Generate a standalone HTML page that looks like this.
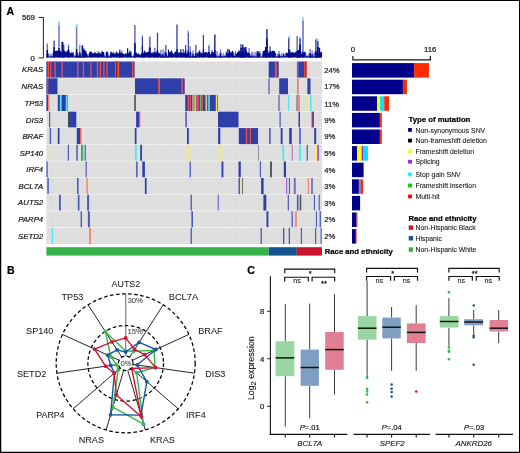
<!DOCTYPE html>
<html lang="en"><head><meta charset="utf-8"><title>Figure</title>
<style>
html,body{margin:0;padding:0;background:#fff;}
body{width:520px;height:453px;overflow:hidden;}
svg{display:block;}
text{font-family:"Liberation Sans",sans-serif;}
</style></head><body>
<svg width="520" height="453" viewBox="0 0 520 453">
<rect x="0" y="0" width="520" height="453" fill="#fff"/>
<text x="6.60" y="14.90" font-size="10.6" text-anchor="start" font-weight="bold" font-style="normal" fill="#000" stroke="#000" stroke-width="0.22" >A</text>
<text x="6.90" y="273.50" font-size="10.6" text-anchor="start" font-weight="bold" font-style="normal" fill="#000" stroke="#000" stroke-width="0.22" >B</text>
<text x="247.30" y="273.80" font-size="10.6" text-anchor="start" font-weight="bold" font-style="normal" fill="#000" stroke="#000" stroke-width="0.22" >C</text>
<g id="tmb">
<text x="34.90" y="20.20" font-size="7.8" text-anchor="end" font-weight="normal" font-style="normal" fill="#1a1a1a" stroke="#1a1a1a" stroke-width="0.22" >569</text>
<text x="34.90" y="61.00" font-size="7.8" text-anchor="end" font-weight="normal" font-style="normal" fill="#1a1a1a" stroke="#1a1a1a" stroke-width="0.22" >0</text>
<path d="M38.6 17.4 H43.4 V57.9 H38.6" fill="none" stroke="#231f20" stroke-width="1"/>
<path fill="#8d93cc" d="M48.68 57.6v-2.24h0.57v2.24zM49.25 57.6v-2.42h0.57v2.42zM49.82 57.6v-3.96h0.57v3.96zM50.39 57.6v-4.92h0.57v4.92zM50.96 57.6v-3.05h0.57v3.05zM51.54 57.6v-4.17h0.57v4.17zM52.11 57.6v-2.20h0.57v2.20zM73.79 57.6v-2.35h0.57v2.35zM74.36 57.6v-2.55h0.57v2.55zM74.93 57.6v-2.50h0.57v2.50zM75.50 57.6v-5.33h0.57v5.33zM77.78 57.6v-2.76h0.57v2.76zM78.35 57.6v-4.74h0.57v4.74zM78.92 57.6v-3.76h0.57v3.76zM80.64 57.6v-3.52h0.57v3.52zM81.21 57.6v-3.24h0.57v3.24zM87.48 57.6v-2.50h0.57v2.50zM88.05 57.6v-3.19h0.57v3.19zM104.03 57.6v-3.63h0.57v3.63zM104.60 57.6v-5.20h0.57v5.20zM105.17 57.6v-4.86h0.57v4.86zM105.74 57.6v-2.25h0.57v2.25zM108.02 57.6v-5.00h0.57v5.00zM108.60 57.6v-3.35h0.57v3.35zM109.17 57.6v-2.55h0.57v2.55zM109.74 57.6v-2.67h0.57v2.67zM131.42 57.6v-4.40h0.57v4.40zM131.99 57.6v-2.18h0.57v2.18zM132.56 57.6v-2.87h0.57v2.87zM133.13 57.6v-4.96h0.57v4.96zM133.70 57.6v-3.00h0.57v3.00zM159.95 57.6v-2.21h0.57v2.21zM160.52 57.6v-4.30h0.57v4.30zM161.09 57.6v-3.59h0.57v3.59zM161.66 57.6v-5.33h0.57v5.33zM162.23 57.6v-4.79h0.57v4.79zM162.80 57.6v-2.71h0.57v2.71zM163.37 57.6v-2.48h0.57v2.48zM163.94 57.6v-4.79h0.57v4.79zM166.80 57.6v-2.48h0.57v2.48zM167.37 57.6v-2.01h0.57v2.01zM189.05 57.6v-5.29h0.57v5.29zM189.62 57.6v-4.93h0.57v4.93zM190.19 57.6v-3.36h0.57v3.36zM190.76 57.6v-4.97h0.57v4.97zM191.33 57.6v-5.05h0.57v5.05zM191.90 57.6v-3.33h0.57v3.33zM192.47 57.6v-5.31h0.57v5.31zM193.04 57.6v-3.78h0.57v3.78zM193.61 57.6v-4.20h0.57v4.20zM194.19 57.6v-2.13h0.57v2.13zM194.76 57.6v-4.19h0.57v4.19zM195.33 57.6v-4.16h0.57v4.16zM195.90 57.6v-3.78h0.57v3.78zM196.47 57.6v-4.04h0.57v4.04zM215.87 57.6v-5.25h0.57v5.25zM216.44 57.6v-3.21h0.57v3.21zM217.01 57.6v-2.17h0.57v2.17zM217.58 57.6v-2.66h0.57v2.66zM218.15 57.6v-3.40h0.57v3.40zM218.72 57.6v-2.12h0.57v2.12zM219.29 57.6v-4.54h0.57v4.54zM219.86 57.6v-5.26h0.57v5.26zM220.43 57.6v-3.08h0.57v3.08zM221.00 57.6v-5.12h0.57v5.12zM221.57 57.6v-2.80h0.57v2.80zM222.14 57.6v-3.31h0.57v3.31zM222.72 57.6v-5.16h0.57v5.16zM223.29 57.6v-4.80h0.57v4.80zM223.86 57.6v-3.09h0.57v3.09zM224.43 57.6v-2.67h0.57v2.67zM225.00 57.6v-2.12h0.57v2.12zM233.56 57.6v-3.35h0.57v3.35zM234.13 57.6v-4.75h0.57v4.75zM234.70 57.6v-3.61h0.57v3.61zM249.53 57.6v-4.18h0.57v4.18zM250.10 57.6v-3.26h0.57v3.26zM250.67 57.6v-3.77h0.57v3.77zM251.25 57.6v-4.74h0.57v4.74zM251.82 57.6v-5.21h0.57v5.21zM252.39 57.6v-5.15h0.57v5.15zM252.96 57.6v-4.80h0.57v4.80zM253.53 57.6v-3.38h0.57v3.38zM254.10 57.6v-2.74h0.57v2.74zM254.67 57.6v-2.42h0.57v2.42zM255.24 57.6v-2.14h0.57v2.14zM255.81 57.6v-4.85h0.57v4.85zM256.38 57.6v-4.13h0.57v4.13zM260.38 57.6v-3.61h0.57v3.61zM260.95 57.6v-2.31h0.57v2.31zM261.52 57.6v-4.16h0.57v4.16zM262.09 57.6v-3.74h0.57v3.74zM275.78 57.6v-3.99h0.57v3.99zM276.35 57.6v-2.11h0.57v2.11zM276.92 57.6v-3.74h0.57v3.74zM277.49 57.6v-4.22h0.57v4.22zM278.06 57.6v-2.36h0.57v2.36zM278.63 57.6v-4.00h0.57v4.00zM279.20 57.6v-2.46h0.57v2.46zM279.78 57.6v-2.33h0.57v2.33zM280.35 57.6v-3.37h0.57v3.37zM280.92 57.6v-3.91h0.57v3.91zM281.49 57.6v-5.19h0.57v5.19zM282.06 57.6v-2.15h0.57v2.15zM284.34 57.6v-2.68h0.57v2.68zM284.91 57.6v-4.77h0.57v4.77zM305.45 57.6v-5.21h0.57v5.21zM306.02 57.6v-2.12h0.57v2.12zM306.59 57.6v-4.81h0.57v4.81zM307.16 57.6v-2.33h0.57v2.33zM307.73 57.6v-3.44h0.57v3.44zM308.31 57.6v-4.43h0.57v4.43zM308.88 57.6v-3.71h0.57v3.71zM309.45 57.6v-3.40h0.57v3.40zM310.02 57.6v-4.40h0.57v4.40zM310.59 57.6v-2.31h0.57v2.31zM311.16 57.6v-2.69h0.57v2.69zM311.73 57.6v-3.67h0.57v3.67zM312.30 57.6v-3.68h0.57v3.68zM312.87 57.6v-5.21h0.57v5.21zM313.44 57.6v-3.69h0.57v3.69zM314.01 57.6v-4.68h0.57v4.68z"/>
<rect x="46.55" y="43.60" width="1.50" height="14.00" fill="#6d75bf" />
<rect x="46.55" y="50.00" width="1.50" height="7.60" fill="#000a8c" />
<rect x="53.45" y="40.50" width="1.30" height="17.10" fill="#323aa2" />
<rect x="53.45" y="47.00" width="1.30" height="10.60" fill="#000a8c" />
<rect x="58.25" y="21.70" width="1.50" height="35.90" fill="#6d75bf" />
<rect x="58.25" y="48.00" width="1.50" height="9.60" fill="#000a8c" />
<rect x="58.25" y="21.70" width="1.50" height="3.60" fill="#93efff" />
<rect x="61.45" y="41.90" width="1.90" height="15.70" fill="#000a8c" />
<rect x="63.30" y="44.50" width="1.00" height="13.10" fill="#000a8c" />
<rect x="67.90" y="44.30" width="1.20" height="13.30" fill="#323aa2" />
<rect x="67.90" y="50.00" width="1.20" height="7.60" fill="#000a8c" />
<rect x="67.90" y="44.30" width="1.20" height="1.20" fill="#93efff" />
<rect x="75.85" y="24.40" width="1.50" height="33.20" fill="#6d75bf" />
<rect x="75.85" y="49.00" width="1.50" height="8.60" fill="#000a8c" />
<rect x="75.85" y="24.40" width="1.50" height="2.60" fill="#93efff" />
<rect x="79.20" y="44.70" width="1.20" height="12.90" fill="#6d75bf" />
<rect x="79.20" y="52.00" width="1.20" height="5.60" fill="#000a8c" />
<rect x="81.60" y="45.40" width="1.60" height="12.20" fill="#000a8c" />
<rect x="83.20" y="48.50" width="1.20" height="9.10" fill="#000a8c" />
<rect x="84.60" y="51.00" width="1.20" height="6.60" fill="#000a8c" />
<rect x="90.60" y="51.50" width="1.20" height="6.10" fill="#000a8c" />
<rect x="97.55" y="51.00" width="1.30" height="6.60" fill="#6d75bf" />
<rect x="97.55" y="54.00" width="1.30" height="3.60" fill="#000a8c" />
<rect x="101.35" y="50.80" width="1.30" height="6.80" fill="#323aa2" />
<rect x="106.00" y="51.60" width="1.20" height="6.00" fill="#323aa2" />
<rect x="106.40" y="51.70" width="1.20" height="5.90" fill="#000a8c" />
<rect x="110.30" y="51.70" width="1.40" height="5.90" fill="#000a8c" />
<rect x="115.80" y="51.70" width="1.20" height="5.90" fill="#000a8c" />
<rect x="119.15" y="49.70" width="1.30" height="7.90" fill="#323aa2" />
<rect x="119.15" y="52.00" width="1.30" height="5.60" fill="#000a8c" />
<rect x="121.20" y="50.40" width="1.20" height="7.20" fill="#6d75bf" />
<rect x="121.20" y="53.00" width="1.20" height="4.60" fill="#000a8c" />
<rect x="127.00" y="48.30" width="1.20" height="9.30" fill="#000a8c" />
<rect x="129.30" y="50.40" width="1.20" height="7.20" fill="#323aa2" />
<rect x="134.10" y="25.00" width="1.60" height="32.60" fill="#6d75bf" />
<rect x="134.10" y="43.00" width="1.60" height="14.60" fill="#000a8c" />
<rect x="141.80" y="34.90" width="1.20" height="22.70" fill="#323aa2" />
<rect x="141.80" y="46.00" width="1.20" height="11.60" fill="#000a8c" />
<rect x="141.80" y="34.90" width="1.20" height="1.50" fill="#93efff" />
<rect x="143.80" y="50.40" width="1.20" height="7.20" fill="#323aa2" />
<rect x="148.90" y="36.60" width="1.80" height="21.00" fill="#6d75bf" />
<rect x="148.90" y="47.50" width="1.80" height="10.10" fill="#000a8c" />
<rect x="154.05" y="47.70" width="1.50" height="9.90" fill="#6d75bf" />
<rect x="154.05" y="52.00" width="1.50" height="5.60" fill="#000a8c" />
<rect x="156.90" y="32.90" width="1.20" height="24.70" fill="#323aa2" />
<rect x="156.90" y="50.00" width="1.20" height="7.60" fill="#000a8c" />
<rect x="160.20" y="49.70" width="1.20" height="7.90" fill="#6d75bf" />
<rect x="160.20" y="54.00" width="1.20" height="3.60" fill="#000a8c" />
<rect x="162.40" y="49.20" width="1.20" height="8.40" fill="#6d75bf" />
<rect x="162.40" y="54.00" width="1.20" height="3.60" fill="#000a8c" />
<rect x="165.00" y="45.00" width="1.60" height="12.60" fill="#6d75bf" />
<rect x="165.00" y="53.00" width="1.60" height="4.60" fill="#000a8c" />
<rect x="167.90" y="49.70" width="1.20" height="7.90" fill="#000a8c" />
<rect x="171.00" y="50.60" width="1.20" height="7.00" fill="#000a8c" />
<rect x="176.35" y="24.50" width="1.30" height="33.10" fill="#323aa2" />
<rect x="176.35" y="49.00" width="1.30" height="8.60" fill="#000a8c" />
<rect x="180.15" y="49.00" width="1.30" height="8.60" fill="#323aa2" />
<rect x="182.60" y="49.00" width="1.20" height="8.60" fill="#323aa2" />
<rect x="185.00" y="45.00" width="1.20" height="12.60" fill="#323aa2" />
<rect x="185.00" y="50.00" width="1.20" height="7.60" fill="#000a8c" />
<rect x="187.70" y="30.20" width="1.20" height="27.40" fill="#323aa2" />
<rect x="187.70" y="50.00" width="1.20" height="7.60" fill="#000a8c" />
<rect x="187.70" y="30.20" width="1.20" height="2.60" fill="#93efff" />
<rect x="189.50" y="46.30" width="1.40" height="11.30" fill="#6d75bf" />
<rect x="189.50" y="52.00" width="1.40" height="5.60" fill="#000a8c" />
<rect x="192.35" y="50.50" width="1.30" height="7.10" fill="#6d75bf" />
<rect x="192.35" y="54.00" width="1.30" height="3.60" fill="#000a8c" />
<rect x="195.00" y="45.00" width="1.60" height="12.60" fill="#6d75bf" />
<rect x="195.00" y="53.00" width="1.60" height="4.60" fill="#000a8c" />
<rect x="198.95" y="50.40" width="1.30" height="7.20" fill="#000a8c" />
<rect x="202.80" y="35.10" width="1.20" height="22.50" fill="#323aa2" />
<rect x="202.80" y="49.00" width="1.20" height="8.60" fill="#000a8c" />
<rect x="208.10" y="44.70" width="1.80" height="12.90" fill="#6d75bf" />
<rect x="208.10" y="52.00" width="1.80" height="5.60" fill="#000a8c" />
<rect x="208.10" y="44.70" width="1.80" height="1.20" fill="#93efff" />
<rect x="211.30" y="50.00" width="1.40" height="7.60" fill="#6d75bf" />
<rect x="211.30" y="54.00" width="1.40" height="3.60" fill="#000a8c" />
<rect x="214.00" y="34.50" width="1.60" height="23.10" fill="#323aa2" />
<rect x="214.00" y="50.00" width="1.60" height="7.60" fill="#000a8c" />
<rect x="216.50" y="51.00" width="1.20" height="6.60" fill="#6d75bf" />
<rect x="219.90" y="49.40" width="1.20" height="8.20" fill="#6d75bf" />
<rect x="219.90" y="53.00" width="1.20" height="4.60" fill="#000a8c" />
<rect x="227.25" y="49.00" width="1.30" height="8.60" fill="#000a8c" />
<rect x="228.85" y="50.00" width="1.30" height="7.60" fill="#000a8c" />
<rect x="231.75" y="51.00" width="1.50" height="6.60" fill="#000a8c" />
<rect x="238.30" y="50.50" width="1.40" height="7.10" fill="#323aa2" />
<rect x="240.30" y="44.30" width="1.40" height="13.30" fill="#323aa2" />
<rect x="240.30" y="48.00" width="1.40" height="9.60" fill="#000a8c" />
<rect x="242.10" y="44.30" width="1.40" height="13.30" fill="#323aa2" />
<rect x="242.10" y="47.00" width="1.40" height="10.60" fill="#000a8c" />
<rect x="243.50" y="47.50" width="1.40" height="10.10" fill="#000a8c" />
<rect x="245.10" y="47.00" width="1.40" height="10.60" fill="#000a8c" />
<rect x="248.45" y="48.00" width="1.30" height="9.60" fill="#6d75bf" />
<rect x="248.45" y="53.00" width="1.30" height="4.60" fill="#000a8c" />
<rect x="251.40" y="51.50" width="1.20" height="6.10" fill="#6d75bf" />
<rect x="254.40" y="51.80" width="1.20" height="5.80" fill="#6d75bf" />
<rect x="256.60" y="51.00" width="1.20" height="6.60" fill="#000a8c" />
<rect x="258.40" y="51.00" width="1.20" height="6.60" fill="#000a8c" />
<rect x="262.70" y="51.00" width="1.20" height="6.60" fill="#000a8c" />
<rect x="265.00" y="47.00" width="1.20" height="10.60" fill="#000a8c" />
<rect x="266.10" y="29.10" width="1.60" height="28.50" fill="#323aa2" />
<rect x="266.10" y="38.50" width="1.60" height="19.10" fill="#000a8c" />
<rect x="269.15" y="46.30" width="1.70" height="11.30" fill="#6d75bf" />
<rect x="269.15" y="51.50" width="1.70" height="6.10" fill="#000a8c" />
<rect x="271.80" y="51.00" width="1.40" height="6.60" fill="#000a8c" />
<rect x="273.60" y="51.00" width="1.40" height="6.60" fill="#000a8c" />
<rect x="278.45" y="51.00" width="1.30" height="6.60" fill="#6d75bf" />
<rect x="278.45" y="54.00" width="1.30" height="3.60" fill="#000a8c" />
<rect x="288.10" y="36.00" width="1.40" height="21.60" fill="#323aa2" />
<rect x="288.10" y="49.00" width="1.40" height="8.60" fill="#000a8c" />
<rect x="288.10" y="36.00" width="1.40" height="2.20" fill="#93efff" />
<rect x="289.40" y="50.50" width="1.20" height="7.10" fill="#000a8c" />
<rect x="291.60" y="52.00" width="1.20" height="5.60" fill="#000a8c" />
<rect x="291.60" y="52.00" width="1.20" height="1.00" fill="#93efff" />
<rect x="296.40" y="36.00" width="1.60" height="21.60" fill="#6d75bf" />
<rect x="296.40" y="51.00" width="1.60" height="6.60" fill="#000a8c" />
<rect x="299.20" y="36.90" width="1.60" height="20.70" fill="#323aa2" />
<rect x="299.20" y="44.50" width="1.60" height="13.10" fill="#000a8c" />
<rect x="299.20" y="36.90" width="1.60" height="1.60" fill="#93efff" />
<rect x="297.90" y="50.00" width="1.40" height="7.60" fill="#000a8c" />
<rect x="302.20" y="17.40" width="1.60" height="40.20" fill="#6d75bf" />
<rect x="302.20" y="52.00" width="1.60" height="5.60" fill="#000a8c" />
<rect x="302.20" y="17.40" width="1.60" height="3.20" fill="#93efff" />
<rect x="304.80" y="52.00" width="1.20" height="5.60" fill="#6d75bf" />
<rect x="309.40" y="49.00" width="1.40" height="8.60" fill="#6d75bf" />
<rect x="309.40" y="53.00" width="1.40" height="4.60" fill="#000a8c" />
<rect x="311.50" y="50.40" width="1.20" height="7.20" fill="#6d75bf" />
<rect x="311.50" y="54.00" width="1.20" height="3.60" fill="#000a8c" />
<rect x="315.20" y="38.20" width="1.40" height="19.40" fill="#323aa2" />
<rect x="315.20" y="51.00" width="1.40" height="6.60" fill="#000a8c" />
<rect x="315.20" y="38.20" width="1.40" height="1.80" fill="#93efff" />
<rect x="317.00" y="39.60" width="1.60" height="18.00" fill="#323aa2" />
<rect x="317.00" y="47.00" width="1.60" height="10.60" fill="#000a8c" />
<rect x="317.00" y="39.60" width="1.60" height="1.80" fill="#93efff" />
<rect x="318.80" y="47.70" width="1.40" height="9.90" fill="#000a8c" />
<rect x="320.70" y="52.40" width="1.20" height="5.20" fill="#000a8c" />
<path fill="#000a8c" d="M46.40 57.6v-3.55h0.62v3.55zM46.97 57.6v-4.04h0.62v4.04zM47.54 57.6v-4.65h0.62v4.65zM48.11 57.6v-4.14h0.62v4.14zM48.68 57.6v-0.91h0.57v0.91zM49.25 57.6v-1.07h0.57v1.07zM49.82 57.6v-1.28h0.57v1.28zM50.39 57.6v-1.15h0.57v1.15zM50.96 57.6v-1.78h0.57v1.78zM51.54 57.6v-1.25h0.57v1.25zM52.11 57.6v-1.05h0.57v1.05zM52.68 57.6v-4.93h0.62v4.93zM53.25 57.6v-6.31h0.62v6.31zM53.82 57.6v-6.90h0.62v6.90zM54.39 57.6v-5.97h0.62v5.97zM54.96 57.6v-6.70h0.62v6.70zM55.53 57.6v-6.69h0.62v6.69zM56.10 57.6v-6.89h0.62v6.89zM56.67 57.6v-7.04h0.62v7.04zM57.24 57.6v-6.71h0.62v6.71zM57.81 57.6v-7.14h0.62v7.14zM58.38 57.6v-8.04h0.62v8.04zM58.95 57.6v-5.90h0.62v5.90zM59.52 57.6v-8.07h0.62v8.07zM60.09 57.6v-6.67h0.62v6.67zM60.67 57.6v-6.36h0.62v6.36zM61.24 57.6v-4.82h0.62v4.82zM61.81 57.6v-5.76h0.62v5.76zM62.38 57.6v-6.27h0.62v6.27zM62.95 57.6v-7.26h0.62v7.26zM63.52 57.6v-7.14h0.62v7.14zM64.09 57.6v-7.17h0.62v7.17zM64.66 57.6v-6.15h0.62v6.15zM65.23 57.6v-6.05h0.62v6.05zM65.80 57.6v-5.29h0.62v5.29zM66.37 57.6v-6.37h0.62v6.37zM66.94 57.6v-7.58h0.62v7.58zM67.51 57.6v-6.50h0.62v6.50zM68.08 57.6v-8.72h0.62v8.72zM68.65 57.6v-7.20h0.62v7.20zM69.22 57.6v-5.75h0.62v5.75zM69.79 57.6v-4.57h0.62v4.57zM70.37 57.6v-4.08h0.62v4.08zM70.94 57.6v-4.60h0.62v4.60zM71.51 57.6v-5.97h0.62v5.97zM72.08 57.6v-4.45h0.62v4.45zM72.65 57.6v-5.62h0.62v5.62zM73.22 57.6v-5.15h0.62v5.15zM73.79 57.6v-1.21h0.57v1.21zM74.36 57.6v-0.83h0.57v0.83zM74.93 57.6v-1.45h0.57v1.45zM75.50 57.6v-1.84h0.57v1.84zM76.07 57.6v-4.59h0.62v4.59zM76.64 57.6v-4.18h0.62v4.18zM77.21 57.6v-5.31h0.62v5.31zM77.78 57.6v-1.77h0.57v1.77zM78.35 57.6v-1.78h0.57v1.78zM78.92 57.6v-1.23h0.57v1.23zM79.49 57.6v-3.93h0.62v3.93zM80.07 57.6v-4.02h0.62v4.02zM80.64 57.6v-1.92h0.57v1.92zM81.21 57.6v-1.06h0.57v1.06zM81.78 57.6v-4.42h0.62v4.42zM82.35 57.6v-6.55h0.62v6.55zM82.92 57.6v-6.75h0.62v6.75zM83.49 57.6v-6.51h0.62v6.51zM84.06 57.6v-8.15h0.62v8.15zM84.63 57.6v-6.72h0.62v6.72zM85.20 57.6v-7.46h0.62v7.46zM85.77 57.6v-6.59h0.62v6.59zM86.34 57.6v-4.66h0.62v4.66zM86.91 57.6v-3.86h0.62v3.86zM87.48 57.6v-1.79h0.57v1.79zM88.05 57.6v-1.46h0.57v1.46zM88.62 57.6v-4.07h0.62v4.07zM89.20 57.6v-5.92h0.62v5.92zM89.77 57.6v-6.07h0.62v6.07zM90.34 57.6v-5.64h0.62v5.64zM90.91 57.6v-5.08h0.62v5.08zM91.48 57.6v-4.50h0.62v4.50zM92.05 57.6v-4.55h0.62v4.55zM92.62 57.6v-4.09h0.62v4.09zM93.19 57.6v-4.55h0.62v4.55zM93.76 57.6v-4.03h0.62v4.03zM94.33 57.6v-5.25h0.62v5.25zM94.90 57.6v-5.27h0.62v5.27zM95.47 57.6v-4.79h0.62v4.79zM96.04 57.6v-4.08h0.62v4.08zM96.61 57.6v-4.26h0.62v4.26zM97.18 57.6v-4.46h0.62v4.46zM97.75 57.6v-3.79h0.62v3.79zM98.32 57.6v-4.79h0.62v4.79zM98.90 57.6v-4.52h0.62v4.52zM99.47 57.6v-5.23h0.62v5.23zM100.04 57.6v-4.25h0.62v4.25zM100.61 57.6v-3.70h0.62v3.70zM101.18 57.6v-4.92h0.62v4.92zM101.75 57.6v-5.42h0.62v5.42zM102.32 57.6v-5.57h0.62v5.57zM102.89 57.6v-5.52h0.62v5.52zM103.46 57.6v-5.57h0.62v5.57zM104.03 57.6v-1.93h0.57v1.93zM104.60 57.6v-1.11h0.57v1.11zM105.17 57.6v-0.96h0.57v0.96zM105.74 57.6v-1.09h0.57v1.09zM106.31 57.6v-4.18h0.62v4.18zM106.88 57.6v-5.48h0.62v5.48zM107.45 57.6v-4.62h0.62v4.62zM108.02 57.6v-1.96h0.57v1.96zM108.60 57.6v-1.38h0.57v1.38zM109.17 57.6v-1.32h0.57v1.32zM109.74 57.6v-1.18h0.57v1.18zM110.31 57.6v-4.69h0.62v4.69zM110.88 57.6v-5.21h0.62v5.21zM111.45 57.6v-4.03h0.62v4.03zM112.02 57.6v-4.80h0.62v4.80zM112.59 57.6v-4.87h0.62v4.87zM113.16 57.6v-5.70h0.62v5.70zM113.73 57.6v-3.87h0.62v3.87zM114.30 57.6v-4.20h0.62v4.20zM114.87 57.6v-3.29h0.62v3.29zM115.44 57.6v-4.86h0.62v4.86zM116.01 57.6v-4.68h0.62v4.68zM116.58 57.6v-5.06h0.62v5.06zM117.15 57.6v-5.06h0.62v5.06zM117.73 57.6v-3.40h0.62v3.40zM118.30 57.6v-4.67h0.62v4.67zM118.87 57.6v-4.81h0.62v4.81zM119.44 57.6v-5.18h0.62v5.18zM120.01 57.6v-4.64h0.62v4.64zM120.58 57.6v-4.29h0.62v4.29zM121.15 57.6v-3.91h0.62v3.91zM121.72 57.6v-5.27h0.62v5.27zM122.29 57.6v-3.74h0.62v3.74zM122.86 57.6v-4.21h0.62v4.21zM123.43 57.6v-3.54h0.62v3.54zM124.00 57.6v-3.21h0.62v3.21zM124.57 57.6v-3.60h0.62v3.60zM125.14 57.6v-4.46h0.62v4.46zM125.71 57.6v-4.33h0.62v4.33zM126.28 57.6v-3.84h0.62v3.84zM126.85 57.6v-3.54h0.62v3.54zM127.43 57.6v-5.06h0.62v5.06zM128.00 57.6v-4.37h0.62v4.37zM128.57 57.6v-4.74h0.62v4.74zM129.14 57.6v-5.60h0.62v5.60zM129.71 57.6v-5.87h0.62v5.87zM130.28 57.6v-4.97h0.62v4.97zM130.85 57.6v-6.02h0.62v6.02zM131.42 57.6v-1.56h0.57v1.56zM131.99 57.6v-0.96h0.57v0.96zM132.56 57.6v-1.00h0.57v1.00zM133.13 57.6v-1.60h0.57v1.60zM133.70 57.6v-1.35h0.57v1.35zM134.27 57.6v-3.67h0.62v3.67zM134.84 57.6v-4.60h0.62v4.60zM135.41 57.6v-5.21h0.62v5.21zM135.98 57.6v-5.34h0.62v5.34zM136.55 57.6v-4.18h0.62v4.18zM137.13 57.6v-3.59h0.62v3.59zM137.70 57.6v-4.24h0.62v4.24zM138.27 57.6v-4.03h0.62v4.03zM138.84 57.6v-3.19h0.62v3.19zM139.41 57.6v-3.31h0.62v3.31zM139.98 57.6v-2.56h0.62v2.56zM140.55 57.6v-3.27h0.62v3.27zM141.12 57.6v-4.43h0.62v4.43zM141.69 57.6v-5.30h0.62v5.30zM142.26 57.6v-5.96h0.62v5.96zM142.83 57.6v-4.68h0.62v4.68zM143.40 57.6v-5.20h0.62v5.20zM143.97 57.6v-5.99h0.62v5.99zM144.54 57.6v-5.13h0.62v5.13zM145.11 57.6v-5.60h0.62v5.60zM145.68 57.6v-6.07h0.62v6.07zM146.26 57.6v-4.69h0.62v4.69zM146.83 57.6v-5.31h0.62v5.31zM147.40 57.6v-5.87h0.62v5.87zM147.97 57.6v-5.92h0.62v5.92zM148.54 57.6v-5.74h0.62v5.74zM149.11 57.6v-3.98h0.62v3.98zM149.68 57.6v-3.96h0.62v3.96zM150.25 57.6v-4.36h0.62v4.36zM150.82 57.6v-4.61h0.62v4.61zM151.39 57.6v-5.14h0.62v5.14zM151.96 57.6v-4.06h0.62v4.06zM152.53 57.6v-5.78h0.62v5.78zM153.10 57.6v-5.23h0.62v5.23zM153.67 57.6v-4.63h0.62v4.63zM154.24 57.6v-5.14h0.62v5.14zM154.81 57.6v-4.15h0.62v4.15zM155.38 57.6v-4.61h0.62v4.61zM155.96 57.6v-6.17h0.62v6.17zM156.53 57.6v-4.98h0.62v4.98zM157.10 57.6v-5.31h0.62v5.31zM157.67 57.6v-5.61h0.62v5.61zM158.24 57.6v-4.75h0.62v4.75zM158.81 57.6v-4.19h0.62v4.19zM159.38 57.6v-4.83h0.62v4.83zM159.95 57.6v-1.12h0.57v1.12zM160.52 57.6v-1.15h0.57v1.15zM161.09 57.6v-0.94h0.57v0.94zM161.66 57.6v-1.92h0.57v1.92zM162.23 57.6v-1.96h0.57v1.96zM162.80 57.6v-1.93h0.57v1.93zM163.37 57.6v-1.43h0.57v1.43zM163.94 57.6v-1.41h0.57v1.41zM164.51 57.6v-6.11h0.62v6.11zM165.08 57.6v-5.57h0.62v5.57zM165.66 57.6v-4.13h0.62v4.13zM166.23 57.6v-4.03h0.62v4.03zM166.80 57.6v-1.21h0.57v1.21zM167.37 57.6v-1.70h0.57v1.70zM167.94 57.6v-4.53h0.62v4.53zM168.51 57.6v-6.10h0.62v6.10zM169.08 57.6v-5.72h0.62v5.72zM169.65 57.6v-5.15h0.62v5.15zM170.22 57.6v-6.13h0.62v6.13zM170.79 57.6v-5.14h0.62v5.14zM171.36 57.6v-3.99h0.62v3.99zM171.93 57.6v-4.65h0.62v4.65zM172.50 57.6v-4.80h0.62v4.80zM173.07 57.6v-3.66h0.62v3.66zM173.64 57.6v-3.95h0.62v3.95zM174.21 57.6v-5.16h0.62v5.16zM174.79 57.6v-5.80h0.62v5.80zM175.36 57.6v-6.00h0.62v6.00zM175.93 57.6v-5.98h0.62v5.98zM176.50 57.6v-5.10h0.62v5.10zM177.07 57.6v-5.73h0.62v5.73zM177.64 57.6v-6.06h0.62v6.06zM178.21 57.6v-4.32h0.62v4.32zM178.78 57.6v-5.11h0.62v5.11zM179.35 57.6v-5.05h0.62v5.05zM179.92 57.6v-5.16h0.62v5.16zM180.49 57.6v-5.26h0.62v5.26zM181.06 57.6v-5.26h0.62v5.26zM181.63 57.6v-5.20h0.62v5.20zM182.20 57.6v-4.05h0.62v4.05zM182.77 57.6v-4.88h0.62v4.88zM183.34 57.6v-4.08h0.62v4.08zM183.91 57.6v-6.18h0.62v6.18zM184.49 57.6v-4.51h0.62v4.51zM185.06 57.6v-3.82h0.62v3.82zM185.63 57.6v-3.74h0.62v3.74zM186.20 57.6v-3.79h0.62v3.79zM186.77 57.6v-5.24h0.62v5.24zM187.34 57.6v-5.03h0.62v5.03zM187.91 57.6v-4.94h0.62v4.94zM188.48 57.6v-4.43h0.62v4.43zM189.05 57.6v-0.95h0.57v0.95zM189.62 57.6v-1.06h0.57v1.06zM190.19 57.6v-1.34h0.57v1.34zM190.76 57.6v-0.83h0.57v0.83zM191.33 57.6v-1.37h0.57v1.37zM191.90 57.6v-1.91h0.57v1.91zM192.47 57.6v-1.10h0.57v1.10zM193.04 57.6v-1.62h0.57v1.62zM193.61 57.6v-1.72h0.57v1.72zM194.19 57.6v-1.74h0.57v1.74zM194.76 57.6v-1.16h0.57v1.16zM195.33 57.6v-1.64h0.57v1.64zM195.90 57.6v-1.50h0.57v1.50zM196.47 57.6v-0.81h0.57v0.81zM197.04 57.6v-4.06h0.62v4.06zM197.61 57.6v-5.49h0.62v5.49zM198.18 57.6v-5.71h0.62v5.71zM198.75 57.6v-4.51h0.62v4.51zM199.32 57.6v-6.02h0.62v6.02zM199.89 57.6v-4.24h0.62v4.24zM200.46 57.6v-5.24h0.62v5.24zM201.03 57.6v-4.41h0.62v4.41zM201.60 57.6v-5.81h0.62v5.81zM202.17 57.6v-3.81h0.62v3.81zM202.74 57.6v-4.31h0.62v4.31zM203.32 57.6v-4.47h0.62v4.47zM203.89 57.6v-5.82h0.62v5.82zM204.46 57.6v-4.73h0.62v4.73zM205.03 57.6v-5.57h0.62v5.57zM205.60 57.6v-5.55h0.62v5.55zM206.17 57.6v-5.44h0.62v5.44zM206.74 57.6v-5.34h0.62v5.34zM207.31 57.6v-4.24h0.62v4.24zM207.88 57.6v-4.20h0.62v4.20zM208.45 57.6v-5.59h0.62v5.59zM209.02 57.6v-4.11h0.62v4.11zM209.59 57.6v-4.83h0.62v4.83zM210.16 57.6v-3.11h0.62v3.11zM210.73 57.6v-3.39h0.62v3.39zM211.30 57.6v-5.46h0.62v5.46zM211.87 57.6v-6.06h0.62v6.06zM212.44 57.6v-5.57h0.62v5.57zM213.02 57.6v-5.58h0.62v5.58zM213.59 57.6v-4.56h0.62v4.56zM214.16 57.6v-5.21h0.62v5.21zM214.73 57.6v-4.69h0.62v4.69zM215.30 57.6v-3.57h0.62v3.57zM215.87 57.6v-0.95h0.57v0.95zM216.44 57.6v-1.79h0.57v1.79zM217.01 57.6v-1.37h0.57v1.37zM217.58 57.6v-1.24h0.57v1.24zM218.15 57.6v-1.77h0.57v1.77zM218.72 57.6v-0.88h0.57v0.88zM219.29 57.6v-1.88h0.57v1.88zM219.86 57.6v-1.54h0.57v1.54zM220.43 57.6v-1.13h0.57v1.13zM221.00 57.6v-1.56h0.57v1.56zM221.57 57.6v-1.37h0.57v1.37zM222.14 57.6v-1.10h0.57v1.10zM222.72 57.6v-1.02h0.57v1.02zM223.29 57.6v-1.73h0.57v1.73zM223.86 57.6v-1.23h0.57v1.23zM224.43 57.6v-1.70h0.57v1.70zM225.00 57.6v-1.46h0.57v1.46zM225.57 57.6v-5.38h0.62v5.38zM226.14 57.6v-6.18h0.62v6.18zM226.71 57.6v-4.10h0.62v4.10zM227.28 57.6v-4.14h0.62v4.14zM227.85 57.6v-4.75h0.62v4.75zM228.42 57.6v-4.28h0.62v4.28zM228.99 57.6v-5.12h0.62v5.12zM229.56 57.6v-5.84h0.62v5.84zM230.13 57.6v-4.79h0.62v4.79zM230.70 57.6v-5.43h0.62v5.43zM231.27 57.6v-5.28h0.62v5.28zM231.85 57.6v-5.15h0.62v5.15zM232.42 57.6v-4.46h0.62v4.46zM232.99 57.6v-4.90h0.62v4.90zM233.56 57.6v-1.99h0.57v1.99zM234.13 57.6v-1.58h0.57v1.58zM234.70 57.6v-1.78h0.57v1.78zM235.27 57.6v-6.58h0.62v6.58zM235.84 57.6v-4.34h0.62v4.34zM236.41 57.6v-3.63h0.62v3.63zM236.98 57.6v-5.41h0.62v5.41zM237.55 57.6v-5.64h0.62v5.64zM238.12 57.6v-5.96h0.62v5.96zM238.69 57.6v-5.56h0.62v5.56zM239.26 57.6v-6.65h0.62v6.65zM239.83 57.6v-6.29h0.62v6.29zM240.40 57.6v-5.18h0.62v5.18zM240.97 57.6v-6.09h0.62v6.09zM241.55 57.6v-5.43h0.62v5.43zM242.12 57.6v-4.52h0.62v4.52zM242.69 57.6v-5.63h0.62v5.63zM243.26 57.6v-5.46h0.62v5.46zM243.83 57.6v-4.94h0.62v4.94zM244.40 57.6v-6.03h0.62v6.03zM244.97 57.6v-6.50h0.62v6.50zM245.54 57.6v-5.91h0.62v5.91zM246.11 57.6v-7.47h0.62v7.47zM246.68 57.6v-6.00h0.62v6.00zM247.25 57.6v-4.60h0.62v4.60zM247.82 57.6v-4.77h0.62v4.77zM248.39 57.6v-5.00h0.62v5.00zM248.96 57.6v-4.01h0.62v4.01zM249.53 57.6v-1.89h0.57v1.89zM250.10 57.6v-1.41h0.57v1.41zM250.67 57.6v-1.91h0.57v1.91zM251.25 57.6v-1.96h0.57v1.96zM251.82 57.6v-1.97h0.57v1.97zM252.39 57.6v-1.27h0.57v1.27zM252.96 57.6v-0.99h0.57v0.99zM253.53 57.6v-1.82h0.57v1.82zM254.10 57.6v-1.28h0.57v1.28zM254.67 57.6v-1.10h0.57v1.10zM255.24 57.6v-1.47h0.57v1.47zM255.81 57.6v-0.94h0.57v0.94zM256.38 57.6v-1.17h0.57v1.17zM256.95 57.6v-5.24h0.62v5.24zM257.52 57.6v-5.14h0.62v5.14zM258.09 57.6v-4.70h0.62v4.70zM258.66 57.6v-4.22h0.62v4.22zM259.23 57.6v-3.98h0.62v3.98zM259.80 57.6v-5.53h0.62v5.53zM260.38 57.6v-0.93h0.57v0.93zM260.95 57.6v-1.33h0.57v1.33zM261.52 57.6v-0.90h0.57v0.90zM262.09 57.6v-0.87h0.57v0.87zM262.66 57.6v-4.83h0.62v4.83zM263.23 57.6v-5.16h0.62v5.16zM263.80 57.6v-6.77h0.62v6.77zM264.37 57.6v-7.28h0.62v7.28zM264.94 57.6v-8.29h0.62v8.29zM265.51 57.6v-7.61h0.62v7.61zM266.08 57.6v-6.87h0.62v6.87zM266.65 57.6v-7.58h0.62v7.58zM267.22 57.6v-6.54h0.62v6.54zM267.79 57.6v-6.67h0.62v6.67zM268.36 57.6v-4.60h0.62v4.60zM268.93 57.6v-3.68h0.62v3.68zM269.50 57.6v-3.55h0.62v3.55zM270.08 57.6v-6.99h0.62v6.99zM270.65 57.6v-5.67h0.62v5.67zM271.22 57.6v-5.91h0.62v5.91zM271.79 57.6v-6.71h0.62v6.71zM272.36 57.6v-6.81h0.62v6.81zM272.93 57.6v-6.88h0.62v6.88zM273.50 57.6v-6.87h0.62v6.87zM274.07 57.6v-6.13h0.62v6.13zM274.64 57.6v-5.26h0.62v5.26zM275.21 57.6v-4.68h0.62v4.68zM275.78 57.6v-1.60h0.57v1.60zM276.35 57.6v-0.98h0.57v0.98zM276.92 57.6v-1.87h0.57v1.87zM277.49 57.6v-0.83h0.57v0.83zM278.06 57.6v-1.23h0.57v1.23zM278.63 57.6v-1.05h0.57v1.05zM279.20 57.6v-1.92h0.57v1.92zM279.78 57.6v-1.57h0.57v1.57zM280.35 57.6v-1.12h0.57v1.12zM280.92 57.6v-1.22h0.57v1.22zM281.49 57.6v-1.68h0.57v1.68zM282.06 57.6v-1.44h0.57v1.44zM282.63 57.6v-4.04h0.62v4.04zM283.20 57.6v-4.35h0.62v4.35zM283.77 57.6v-3.60h0.62v3.60zM284.34 57.6v-1.53h0.57v1.53zM284.91 57.6v-1.01h0.57v1.01zM285.48 57.6v-4.26h0.62v4.26zM286.05 57.6v-4.57h0.62v4.57zM286.62 57.6v-5.21h0.62v5.21zM287.19 57.6v-4.59h0.62v4.59zM287.76 57.6v-4.79h0.62v4.79zM288.33 57.6v-5.21h0.62v5.21zM288.91 57.6v-4.01h0.62v4.01zM289.48 57.6v-3.56h0.62v3.56zM290.05 57.6v-4.69h0.62v4.69zM290.62 57.6v-5.45h0.62v5.45zM291.19 57.6v-4.89h0.62v4.89zM291.76 57.6v-5.09h0.62v5.09zM292.33 57.6v-5.59h0.62v5.59zM292.90 57.6v-5.08h0.62v5.08zM293.47 57.6v-5.22h0.62v5.22zM294.04 57.6v-5.20h0.62v5.20zM294.61 57.6v-4.66h0.62v4.66zM295.18 57.6v-6.13h0.62v6.13zM295.75 57.6v-5.33h0.62v5.33zM296.32 57.6v-5.66h0.62v5.66zM296.89 57.6v-5.68h0.62v5.68zM297.46 57.6v-6.77h0.62v6.77zM298.03 57.6v-7.27h0.62v7.27zM298.61 57.6v-7.39h0.62v7.39zM299.18 57.6v-6.79h0.62v6.79zM299.75 57.6v-5.76h0.62v5.76zM300.32 57.6v-5.65h0.62v5.65zM300.89 57.6v-6.24h0.62v6.24zM301.46 57.6v-3.37h0.62v3.37zM302.03 57.6v-4.00h0.62v4.00zM302.60 57.6v-4.78h0.62v4.78zM303.17 57.6v-4.37h0.62v4.37zM303.74 57.6v-4.93h0.62v4.93zM304.31 57.6v-6.09h0.62v6.09zM304.88 57.6v-5.25h0.62v5.25zM305.45 57.6v-0.93h0.57v0.93zM306.02 57.6v-1.82h0.57v1.82zM306.59 57.6v-1.56h0.57v1.56zM307.16 57.6v-1.71h0.57v1.71zM307.73 57.6v-0.83h0.57v0.83zM308.31 57.6v-1.24h0.57v1.24zM308.88 57.6v-1.82h0.57v1.82zM309.45 57.6v-1.32h0.57v1.32zM310.02 57.6v-1.45h0.57v1.45zM310.59 57.6v-1.78h0.57v1.78zM311.16 57.6v-1.71h0.57v1.71zM311.73 57.6v-1.39h0.57v1.39zM312.30 57.6v-1.22h0.57v1.22zM312.87 57.6v-1.14h0.57v1.14zM313.44 57.6v-0.93h0.57v0.93zM314.01 57.6v-1.64h0.57v1.64zM314.58 57.6v-5.74h0.62v5.74zM315.15 57.6v-4.84h0.62v4.84zM315.72 57.6v-5.40h0.62v5.40zM316.29 57.6v-4.75h0.62v4.75zM316.86 57.6v-3.19h0.62v3.19zM317.44 57.6v-4.46h0.62v4.46zM318.01 57.6v-4.11h0.62v4.11zM318.58 57.6v-4.80h0.62v4.80zM319.15 57.6v-5.06h0.62v5.06zM319.72 57.6v-5.80h0.62v5.80zM320.29 57.6v-5.18h0.62v5.18zM320.86 57.6v-4.34h0.62v4.34zM321.43 57.6v-5.74h0.62v5.74z"/>
</g>
<g id="onco">
<rect x="46.40" y="61.55" width="275.60" height="16.22" fill="#dedede" />
<rect x="46.40" y="78.17" width="275.60" height="16.22" fill="#dedede" />
<rect x="46.40" y="94.79" width="275.60" height="16.22" fill="#dedede" />
<rect x="46.40" y="111.41" width="275.60" height="16.22" fill="#dedede" />
<rect x="46.40" y="128.03" width="275.60" height="16.22" fill="#dedede" />
<rect x="46.40" y="144.65" width="275.60" height="16.22" fill="#dedede" />
<rect x="46.40" y="161.27" width="275.60" height="16.22" fill="#dedede" />
<rect x="46.40" y="177.89" width="275.60" height="16.22" fill="#dedede" />
<rect x="46.40" y="194.51" width="275.60" height="16.22" fill="#dedede" />
<rect x="46.40" y="211.13" width="275.60" height="16.22" fill="#dedede" />
<rect x="46.40" y="227.75" width="275.60" height="16.22" fill="#dedede" />
<path d="M48.70 61.55V243.97M51.00 61.55V243.97M53.30 61.55V243.97M55.60 61.55V243.97M57.90 61.55V243.97M60.20 61.55V243.97M62.50 61.55V243.97M64.80 61.55V243.97M67.10 61.55V243.97M69.40 61.55V243.97M71.70 61.55V243.97M74.00 61.55V243.97M76.30 61.55V243.97M78.60 61.55V243.97M80.90 61.55V243.97M83.20 61.55V243.97M85.50 61.55V243.97M87.80 61.55V243.97M90.10 61.55V243.97M92.40 61.55V243.97M94.70 61.55V243.97M97.00 61.55V243.97M99.30 61.55V243.97M101.60 61.55V243.97M103.90 61.55V243.97M106.20 61.55V243.97M108.50 61.55V243.97M110.80 61.55V243.97M113.10 61.55V243.97M115.40 61.55V243.97M117.70 61.55V243.97M120.00 61.55V243.97M122.30 61.55V243.97M124.60 61.55V243.97M126.90 61.55V243.97M129.20 61.55V243.97M131.50 61.55V243.97M133.80 61.55V243.97M136.10 61.55V243.97M138.40 61.55V243.97M140.70 61.55V243.97M143.00 61.55V243.97M145.30 61.55V243.97M147.60 61.55V243.97M149.90 61.55V243.97M152.20 61.55V243.97M154.50 61.55V243.97M156.80 61.55V243.97M159.10 61.55V243.97M161.40 61.55V243.97M163.70 61.55V243.97M166.00 61.55V243.97M168.30 61.55V243.97M170.60 61.55V243.97M172.90 61.55V243.97M175.20 61.55V243.97M177.50 61.55V243.97M179.80 61.55V243.97M182.10 61.55V243.97M184.40 61.55V243.97M186.70 61.55V243.97M189.00 61.55V243.97M191.30 61.55V243.97M193.60 61.55V243.97M195.90 61.55V243.97M198.20 61.55V243.97M200.50 61.55V243.97M202.80 61.55V243.97M205.10 61.55V243.97M207.40 61.55V243.97M209.70 61.55V243.97M212.00 61.55V243.97M214.30 61.55V243.97M216.60 61.55V243.97M218.90 61.55V243.97M221.20 61.55V243.97M223.50 61.55V243.97M225.80 61.55V243.97M228.10 61.55V243.97M230.40 61.55V243.97M232.70 61.55V243.97M235.00 61.55V243.97M237.30 61.55V243.97M239.60 61.55V243.97M241.90 61.55V243.97M244.20 61.55V243.97M246.50 61.55V243.97M248.80 61.55V243.97M251.10 61.55V243.97M253.40 61.55V243.97M255.70 61.55V243.97M258.00 61.55V243.97M260.30 61.55V243.97M262.60 61.55V243.97M264.90 61.55V243.97M267.20 61.55V243.97M269.50 61.55V243.97M271.80 61.55V243.97M274.10 61.55V243.97M276.40 61.55V243.97M278.70 61.55V243.97M281.00 61.55V243.97M283.30 61.55V243.97M285.60 61.55V243.97M287.90 61.55V243.97M290.20 61.55V243.97M292.50 61.55V243.97M294.80 61.55V243.97M297.10 61.55V243.97M299.40 61.55V243.97M301.70 61.55V243.97M304.00 61.55V243.97M306.30 61.55V243.97M308.60 61.55V243.97M310.90 61.55V243.97M313.20 61.55V243.97M315.50 61.55V243.97M317.80 61.55V243.97M320.10 61.55V243.97" stroke="#e6e6e6" stroke-width="0.5" fill="none" opacity="0.55"/>
<rect x="46.40" y="61.55" width="88.20" height="16.22" fill="#2f3faa" />
<rect x="47.65" y="61.55" width="1.30" height="16.22" fill="#ff5030" />
<rect x="50.05" y="61.55" width="1.30" height="16.22" fill="#e0506a" />
<rect x="54.45" y="61.55" width="1.30" height="16.22" fill="#f4513b" />
<rect x="61.45" y="61.55" width="1.30" height="16.22" fill="#e8506a" />
<rect x="77.15" y="61.55" width="1.30" height="16.22" fill="#e8506a" />
<rect x="82.75" y="61.55" width="1.30" height="16.22" fill="#f4513b" />
<rect x="90.25" y="61.55" width="1.30" height="16.22" fill="#c85078" />
<rect x="96.85" y="61.55" width="1.30" height="16.22" fill="#f4513b" />
<rect x="99.75" y="61.55" width="1.30" height="16.22" fill="#f4513b" />
<rect x="103.25" y="61.55" width="1.30" height="16.22" fill="#e05068" />
<rect x="106.35" y="61.55" width="1.30" height="16.22" fill="#e05068" />
<rect x="114.95" y="61.55" width="1.30" height="16.22" fill="#f4513b" />
<rect x="116.05" y="61.55" width="1.30" height="16.22" fill="#702020" />
<rect x="117.45" y="61.55" width="1.30" height="16.22" fill="#ff5030" />
<rect x="117.85" y="61.55" width="1.30" height="16.22" fill="#ff5030" />
<rect x="132.05" y="61.55" width="1.30" height="16.22" fill="#f4513b" />
<rect x="268.70" y="61.55" width="10.00" height="16.22" fill="#2f3faa" />
<rect x="274.90" y="61.55" width="1.90" height="16.22" fill="#f4513b" />
<rect x="296.90" y="61.55" width="1.50" height="16.22" fill="#b04a70" />
<rect x="298.30" y="61.55" width="8.70" height="16.22" fill="#2f3faa" />
<rect x="304.20" y="61.55" width="0.90" height="16.22" fill="#f4513b" />
<rect x="305.80" y="61.55" width="1.20" height="16.22" fill="#f4513b" />
<text x="43.20" y="72.00" font-size="7.8" text-anchor="end" font-weight="normal" font-style="italic" fill="#1a1a1a" stroke="#1a1a1a" stroke-width="0.22" >KRAS</text>
<text x="324.30" y="73.30" font-size="7.7" text-anchor="start" font-weight="normal" font-style="normal" fill="#1a1a1a" stroke="#1a1a1a" stroke-width="0.22" >24%</text>
<rect x="46.40" y="78.17" width="11.10" height="16.22" fill="#2f3faa" />
<rect x="46.90" y="78.17" width="1.60" height="16.22" fill="#b0486e" />
<rect x="135.00" y="78.17" width="49.70" height="16.22" fill="#2f3faa" />
<rect x="158.20" y="78.17" width="1.80" height="16.22" fill="#f4513b" />
<rect x="181.30" y="78.17" width="1.80" height="16.22" fill="#d0506a" />
<rect x="268.40" y="78.17" width="1.20" height="16.22" fill="#4a5aba" />
<rect x="279.20" y="78.17" width="8.80" height="16.22" fill="#2f3faa" />
<rect x="297.30" y="78.17" width="1.20" height="16.22" fill="#f4513b" />
<rect x="307.00" y="78.17" width="0.90" height="16.22" fill="#f4513b" />
<rect x="307.90" y="78.17" width="2.60" height="16.22" fill="#2f3faa" />
<text x="43.20" y="88.92" font-size="7.8" text-anchor="end" font-weight="normal" font-style="italic" fill="#1a1a1a" stroke="#1a1a1a" stroke-width="0.22" >NRAS</text>
<text x="324.30" y="88.62" font-size="7.7" text-anchor="start" font-weight="normal" font-style="normal" fill="#1a1a1a" stroke="#1a1a1a" stroke-width="0.22" >17%</text>
<rect x="46.40" y="94.79" width="1.60" height="16.22" fill="#2f3faa" />
<rect x="48.00" y="94.79" width="1.60" height="16.22" fill="#f58a78" />
<rect x="57.80" y="94.79" width="10.00" height="16.22" fill="#2f3faa" />
<rect x="59.80" y="94.79" width="1.80" height="16.22" fill="#4fe6f5" />
<rect x="65.80" y="94.79" width="1.70" height="16.22" fill="#4fe6f5" />
<rect x="134.30" y="94.79" width="1.40" height="16.22" fill="#3a3a3a" />
<rect x="185.20" y="94.79" width="32.50" height="16.22" fill="#2f3faa" />
<rect x="187.70" y="94.79" width="1.40" height="16.22" fill="#e25566" />
<rect x="189.90" y="94.79" width="1.10" height="16.22" fill="#d85a78" />
<rect x="192.00" y="94.79" width="2.90" height="16.22" fill="#a3a274" />
<rect x="194.90" y="94.79" width="1.20" height="16.22" fill="#ffc233" />
<rect x="196.10" y="94.79" width="2.70" height="16.22" fill="#d4506c" />
<rect x="199.80" y="94.79" width="1.20" height="16.22" fill="#5cc060" />
<rect x="201.40" y="94.79" width="1.60" height="16.22" fill="#e25566" />
<rect x="205.40" y="94.79" width="1.70" height="16.22" fill="#d2c964" />
<rect x="207.80" y="94.79" width="2.20" height="16.22" fill="#4fc0ee" />
<rect x="215.80" y="94.79" width="1.20" height="16.22" fill="#f2ea50" />
<rect x="278.40" y="94.79" width="1.20" height="16.22" fill="#4a5aba" />
<rect x="288.00" y="94.79" width="1.20" height="16.22" fill="#4fe6f5" />
<rect x="296.50" y="94.79" width="1.20" height="16.22" fill="#4a5aba" />
<rect x="297.70" y="94.79" width="2.30" height="16.22" fill="#f58a78" />
<rect x="306.70" y="94.79" width="1.50" height="16.22" fill="#f7f23c" />
<rect x="310.00" y="94.79" width="1.60" height="16.22" fill="#4fe6f5" />
<text x="43.20" y="105.54" font-size="7.8" text-anchor="end" font-weight="normal" font-style="italic" fill="#1a1a1a" stroke="#1a1a1a" stroke-width="0.22" >TP53</text>
<text x="324.30" y="106.74" font-size="7.7" text-anchor="start" font-weight="normal" font-style="normal" fill="#1a1a1a" stroke="#1a1a1a" stroke-width="0.22" >11%</text>
<rect x="49.00" y="111.41" width="1.20" height="16.22" fill="#4a5aba" />
<rect x="68.00" y="111.41" width="0.90" height="16.22" fill="#3a3a3a" />
<rect x="68.90" y="111.41" width="7.40" height="16.22" fill="#2f3faa" />
<rect x="136.10" y="111.41" width="3.20" height="16.22" fill="#2f3faa" />
<rect x="139.30" y="111.41" width="1.00" height="16.22" fill="#f4513b" />
<rect x="185.10" y="111.41" width="1.00" height="16.22" fill="#f4513b" />
<rect x="186.10" y="111.41" width="0.70" height="16.22" fill="#2f3faa" />
<rect x="218.00" y="111.41" width="20.50" height="16.22" fill="#2f3faa" />
<rect x="279.50" y="111.41" width="1.20" height="16.22" fill="#4a5aba" />
<rect x="298.50" y="111.41" width="1.50" height="16.22" fill="#2f3faa" />
<rect x="311.60" y="111.41" width="2.40" height="16.22" fill="#8a3a78" />
<text x="43.20" y="122.56" font-size="7.8" text-anchor="end" font-weight="normal" font-style="italic" fill="#1a1a1a" stroke="#1a1a1a" stroke-width="0.22" >DIS3</text>
<text x="324.30" y="123.36" font-size="7.7" text-anchor="start" font-weight="normal" font-style="normal" fill="#1a1a1a" stroke="#1a1a1a" stroke-width="0.22" >9%</text>
<rect x="49.70" y="128.03" width="1.40" height="16.22" fill="#4a5aba" />
<rect x="57.80" y="128.03" width="1.70" height="16.22" fill="#2f3faa" />
<rect x="76.80" y="128.03" width="3.40" height="16.22" fill="#2f3faa" />
<rect x="80.20" y="128.03" width="1.20" height="16.22" fill="#f4513b" />
<rect x="134.80" y="128.03" width="1.70" height="16.22" fill="#2f3faa" />
<rect x="187.00" y="128.03" width="1.80" height="16.22" fill="#2f3faa" />
<rect x="218.10" y="128.03" width="2.20" height="16.22" fill="#2f3faa" />
<rect x="238.80" y="128.03" width="19.20" height="16.22" fill="#2f3faa" />
<rect x="245.90" y="128.03" width="1.30" height="16.22" fill="#f4513b" />
<rect x="249.60" y="128.03" width="1.30" height="16.22" fill="#f4513b" />
<rect x="269.10" y="128.03" width="1.60" height="16.22" fill="#4a5aba" />
<rect x="280.70" y="128.03" width="1.90" height="16.22" fill="#2f3faa" />
<rect x="289.20" y="128.03" width="2.60" height="16.22" fill="#2f3faa" />
<rect x="299.20" y="128.03" width="1.60" height="16.22" fill="#4a5aba" />
<rect x="314.20" y="128.03" width="2.00" height="16.22" fill="#2f3faa" />
<text x="43.20" y="138.98" font-size="7.8" text-anchor="end" font-weight="normal" font-style="italic" fill="#1a1a1a" stroke="#1a1a1a" stroke-width="0.22" >BRAF</text>
<text x="324.30" y="139.48" font-size="7.7" text-anchor="start" font-weight="normal" font-style="normal" fill="#1a1a1a" stroke="#1a1a1a" stroke-width="0.22" >9%</text>
<rect x="50.80" y="144.65" width="1.20" height="16.22" fill="#f7f23c" />
<rect x="67.80" y="144.65" width="1.20" height="16.22" fill="#4a5aba" />
<rect x="76.30" y="144.65" width="1.50" height="16.22" fill="#4a5aba" />
<rect x="81.40" y="144.65" width="0.80" height="16.22" fill="#3a3a3a" />
<rect x="82.20" y="144.65" width="1.00" height="16.22" fill="#35b84a" />
<rect x="83.20" y="144.65" width="1.20" height="16.22" fill="#4fe6f5" />
<rect x="84.70" y="144.65" width="1.30" height="16.22" fill="#a050e0" />
<rect x="135.00" y="144.65" width="1.80" height="16.22" fill="#4fe6f5" />
<rect x="140.20" y="144.65" width="1.80" height="16.22" fill="#2f3faa" />
<rect x="188.30" y="144.65" width="1.50" height="16.22" fill="#f7f23c" />
<rect x="220.30" y="144.65" width="1.50" height="16.22" fill="#f7f23c" />
<rect x="258.20" y="144.65" width="0.60" height="16.22" fill="#2f3faa" />
<rect x="258.80" y="144.65" width="1.20" height="16.22" fill="#f7f23c" />
<rect x="282.30" y="144.65" width="1.80" height="16.22" fill="#4fe6f5" />
<rect x="291.80" y="144.65" width="1.00" height="16.22" fill="#a050e0" />
<rect x="292.80" y="144.65" width="1.00" height="16.22" fill="#f7f23c" />
<rect x="299.20" y="144.65" width="1.90" height="16.22" fill="#4fe6f5" />
<rect x="306.70" y="144.65" width="1.20" height="16.22" fill="#4a5aba" />
<rect x="315.90" y="144.65" width="1.10" height="16.22" fill="#f7f23c" />
<rect x="317.20" y="144.65" width="1.80" height="16.22" fill="#a050e0" />
<text x="43.20" y="155.60" font-size="7.8" text-anchor="end" font-weight="normal" font-style="italic" fill="#1a1a1a" stroke="#1a1a1a" stroke-width="0.22" >SP140</text>
<text x="324.30" y="156.40" font-size="7.7" text-anchor="start" font-weight="normal" font-style="normal" fill="#1a1a1a" stroke="#1a1a1a" stroke-width="0.22" >5%</text>
<rect x="46.40" y="161.27" width="1.30" height="16.22" fill="#4a5aba" />
<rect x="85.60" y="161.27" width="1.20" height="16.22" fill="#4a5aba" />
<rect x="136.10" y="161.27" width="1.50" height="16.22" fill="#4a5aba" />
<rect x="142.30" y="161.27" width="2.60" height="16.22" fill="#2f3faa" />
<rect x="189.60" y="161.27" width="1.30" height="16.22" fill="#4a5aba" />
<rect x="221.50" y="161.27" width="1.90" height="16.22" fill="#2f3faa" />
<rect x="238.50" y="161.27" width="2.30" height="16.22" fill="#2f3faa" />
<rect x="259.80" y="161.27" width="1.20" height="16.22" fill="#4a5aba" />
<rect x="270.20" y="161.27" width="1.60" height="16.22" fill="#3a3a3a" />
<rect x="283.80" y="161.27" width="2.20" height="16.22" fill="#2f3faa" />
<text x="43.20" y="172.22" font-size="7.8" text-anchor="end" font-weight="normal" font-style="italic" fill="#1a1a1a" stroke="#1a1a1a" stroke-width="0.22" >IRF4</text>
<text x="324.30" y="172.52" font-size="7.7" text-anchor="start" font-weight="normal" font-style="normal" fill="#1a1a1a" stroke="#1a1a1a" stroke-width="0.22" >4%</text>
<rect x="47.30" y="177.89" width="1.50" height="16.22" fill="#4a5aba" />
<rect x="77.00" y="177.89" width="1.60" height="16.22" fill="#4a5aba" />
<rect x="86.30" y="177.89" width="1.60" height="16.22" fill="#f58a78" />
<rect x="144.90" y="177.89" width="1.70" height="16.22" fill="#2f3faa" />
<rect x="238.50" y="177.89" width="1.50" height="16.22" fill="#4a5aba" />
<rect x="240.80" y="177.89" width="1.10" height="16.22" fill="#f7f23c" />
<rect x="242.00" y="177.89" width="0.70" height="16.22" fill="#3a3a3a" />
<rect x="261.10" y="177.89" width="2.50" height="16.22" fill="#2f3faa" />
<rect x="286.10" y="177.89" width="1.10" height="16.22" fill="#a050e0" />
<rect x="288.90" y="177.89" width="1.10" height="16.22" fill="#4a5aba" />
<rect x="293.80" y="177.89" width="0.80" height="16.22" fill="#a050e0" />
<rect x="294.60" y="177.89" width="0.90" height="16.22" fill="#2f3faa" />
<rect x="307.70" y="177.89" width="1.30" height="16.22" fill="#f58a78" />
<rect x="311.30" y="177.89" width="1.40" height="16.22" fill="#4a5aba" />
<text x="43.20" y="188.84" font-size="7.8" text-anchor="end" font-weight="normal" font-style="italic" fill="#1a1a1a" stroke="#1a1a1a" stroke-width="0.22" >BCL7A</text>
<text x="324.30" y="188.54" font-size="7.7" text-anchor="start" font-weight="normal" font-style="normal" fill="#1a1a1a" stroke="#1a1a1a" stroke-width="0.22" >3%</text>
<rect x="59.00" y="194.51" width="1.80" height="16.22" fill="#4a5aba" />
<rect x="77.80" y="194.51" width="1.70" height="16.22" fill="#4a5aba" />
<rect x="87.10" y="194.51" width="2.00" height="16.22" fill="#4a5aba" />
<rect x="190.60" y="194.51" width="1.30" height="16.22" fill="#4a5aba" />
<rect x="217.70" y="194.51" width="1.00" height="16.22" fill="#4a5aba" />
<rect x="263.40" y="194.51" width="2.90" height="16.22" fill="#2f3faa" />
<rect x="287.70" y="194.51" width="1.20" height="16.22" fill="#4a5aba" />
<rect x="296.90" y="194.51" width="1.60" height="16.22" fill="#4a5aba" />
<rect x="299.70" y="194.51" width="1.60" height="16.22" fill="#555" />
<rect x="313.90" y="194.51" width="1.10" height="16.22" fill="#4a5aba" />
<rect x="318.70" y="194.51" width="1.10" height="16.22" fill="#4a5aba" />
<text x="43.20" y="205.46" font-size="7.8" text-anchor="end" font-weight="normal" font-style="italic" fill="#1a1a1a" stroke="#1a1a1a" stroke-width="0.22" >AUTS2</text>
<text x="324.30" y="205.86" font-size="7.7" text-anchor="start" font-weight="normal" font-style="normal" fill="#1a1a1a" stroke="#1a1a1a" stroke-width="0.22" >3%</text>
<rect x="80.60" y="211.13" width="1.40" height="16.22" fill="#4a5aba" />
<rect x="87.90" y="211.13" width="2.00" height="16.22" fill="#4a5aba" />
<rect x="191.40" y="211.13" width="1.60" height="16.22" fill="#4a5aba" />
<rect x="266.50" y="211.13" width="1.90" height="16.22" fill="#2f3faa" />
<rect x="291.50" y="211.13" width="1.30" height="16.22" fill="#4a5aba" />
<rect x="294.90" y="211.13" width="2.00" height="16.22" fill="#f58a78" />
<rect x="315.90" y="211.13" width="1.10" height="16.22" fill="#4a5aba" />
<rect x="319.60" y="211.13" width="1.30" height="16.22" fill="#4a5aba" />
<text x="43.20" y="222.08" font-size="7.8" text-anchor="end" font-weight="normal" font-style="italic" fill="#1a1a1a" stroke="#1a1a1a" stroke-width="0.22" >PARP4</text>
<text x="324.30" y="221.78" font-size="7.7" text-anchor="start" font-weight="normal" font-style="normal" fill="#1a1a1a" stroke="#1a1a1a" stroke-width="0.22" >2%</text>
<rect x="51.70" y="227.75" width="1.40" height="16.22" fill="#4fe6f5" />
<rect x="89.00" y="227.75" width="2.00" height="16.22" fill="#f58a78" />
<rect x="190.60" y="227.75" width="1.30" height="16.22" fill="#4a5aba" />
<rect x="260.60" y="227.75" width="1.30" height="16.22" fill="#4a5aba" />
<rect x="283.00" y="227.75" width="1.40" height="16.22" fill="#4a5aba" />
<rect x="288.70" y="227.75" width="1.30" height="16.22" fill="#4a5aba" />
<rect x="300.80" y="227.75" width="1.20" height="16.22" fill="#4a5aba" />
<rect x="315.00" y="227.75" width="1.20" height="16.22" fill="#4a5aba" />
<rect x="320.60" y="227.75" width="1.10" height="16.22" fill="#4a5aba" />
<text x="43.20" y="238.70" font-size="7.8" text-anchor="end" font-weight="normal" font-style="italic" fill="#1a1a1a" stroke="#1a1a1a" stroke-width="0.22" >SETD2</text>
<text x="324.30" y="238.80" font-size="7.7" text-anchor="start" font-weight="normal" font-style="normal" fill="#1a1a1a" stroke="#1a1a1a" stroke-width="0.22" >2%</text>
<rect x="46.40" y="77.77" width="275.60" height="0.40" fill="#f3f3f3" />
<rect x="46.40" y="94.39" width="275.60" height="0.40" fill="#f3f3f3" />
<rect x="46.40" y="111.01" width="275.60" height="0.40" fill="#f3f3f3" />
<rect x="46.40" y="127.63" width="275.60" height="0.40" fill="#f3f3f3" />
<rect x="46.40" y="144.25" width="275.60" height="0.40" fill="#f3f3f3" />
<rect x="46.40" y="160.87" width="275.60" height="0.40" fill="#f3f3f3" />
<rect x="46.40" y="177.49" width="275.60" height="0.40" fill="#f3f3f3" />
<rect x="46.40" y="194.11" width="275.60" height="0.40" fill="#f3f3f3" />
<rect x="46.40" y="210.73" width="275.60" height="0.40" fill="#f3f3f3" />
<rect x="46.40" y="227.35" width="275.60" height="0.40" fill="#f3f3f3" />
</g>
<rect x="46.40" y="247.20" width="222.30" height="8.40" fill="#35b34a" />
<rect x="268.70" y="247.20" width="28.10" height="8.40" fill="#14548e" />
<rect x="296.80" y="247.20" width="25.20" height="8.40" fill="#c8142f" />
<text x="324.80" y="254.10" font-size="7.7" text-anchor="start" font-weight="bold" font-style="normal" fill="#000" stroke="#000" stroke-width="0.22" >Race and ethnicity</text>
<g id="bars">
<path d="M352.9 56.0V59.9H430.3V56.0" fill="none" stroke="#111" stroke-width="1.15"/>
<text x="353.00" y="52.20" font-size="7.8" text-anchor="middle" font-weight="normal" font-style="normal" fill="#1a1a1a" stroke="#1a1a1a" stroke-width="0.22" >0</text>
<text x="430.20" y="52.20" font-size="7.8" text-anchor="middle" font-weight="normal" font-style="normal" fill="#1a1a1a" stroke="#1a1a1a" stroke-width="0.22" >116</text>
<rect x="352.00" y="63.10" width="62.10" height="14.50" fill="#00008b" />
<rect x="414.10" y="63.10" width="14.80" height="14.50" fill="#ff2a00" />
<rect x="352.00" y="79.70" width="50.90" height="14.50" fill="#00008b" />
<rect x="402.90" y="79.70" width="4.00" height="14.50" fill="#ff2a00" />
<rect x="352.00" y="96.30" width="25.00" height="14.50" fill="#00008b" />
<rect x="377.00" y="96.30" width="3.20" height="14.50" fill="#ffff00" />
<rect x="380.20" y="96.30" width="4.00" height="14.50" fill="#00e5ff" />
<rect x="384.20" y="96.30" width="4.80" height="14.50" fill="#ff2a00" />
<rect x="352.00" y="112.90" width="27.30" height="14.50" fill="#00008b" />
<rect x="379.30" y="112.90" width="0.70" height="14.50" fill="#000" />
<rect x="380.00" y="112.90" width="1.80" height="14.50" fill="#ff2a00" />
<rect x="352.00" y="129.50" width="27.30" height="14.50" fill="#00008b" />
<rect x="379.30" y="129.50" width="0.70" height="14.50" fill="#000" />
<rect x="380.00" y="129.50" width="1.80" height="14.50" fill="#ff2a00" />
<rect x="352.00" y="146.10" width="5.00" height="14.50" fill="#00008b" />
<rect x="357.00" y="146.10" width="4.70" height="14.50" fill="#ffff00" />
<rect x="361.70" y="146.10" width="1.80" height="14.50" fill="#a020f0" />
<rect x="363.50" y="146.10" width="3.70" height="14.50" fill="#00e5ff" />
<rect x="367.20" y="146.10" width="0.60" height="14.50" fill="#00cd00" />
<rect x="352.00" y="162.70" width="11.60" height="14.50" fill="#00008b" />
<rect x="352.00" y="179.30" width="6.90" height="14.50" fill="#00008b" />
<rect x="358.90" y="179.30" width="2.10" height="14.50" fill="#9a7aa0" />
<rect x="361.00" y="179.30" width="2.10" height="14.50" fill="#ff2a00" />
<rect x="352.00" y="195.90" width="8.10" height="14.50" fill="#00008b" />
<rect x="352.00" y="212.50" width="4.60" height="14.50" fill="#00008b" />
<rect x="356.60" y="212.50" width="0.90" height="14.50" fill="#ff4020" />
<rect x="352.00" y="229.10" width="3.90" height="14.50" fill="#00008b" />
<rect x="355.90" y="229.10" width="1.10" height="14.50" fill="#ff8a70" />
</g>
<text x="408.50" y="121.80" font-size="7.75" text-anchor="start" font-weight="bold" font-style="normal" fill="#000" stroke="#000" stroke-width="0.22" >Type of mutation</text>
<rect x="408.10" y="128.00" width="3.80" height="3.80" fill="#00008b" />
<text x="415.50" y="132.50" font-size="6.9" text-anchor="start" font-weight="normal" font-style="normal" fill="#1a1a1a" stroke="#1a1a1a" stroke-width="0.1" >Non-synonymous SNV</text>
<rect x="408.10" y="138.70" width="3.80" height="3.80" fill="#000" />
<text x="415.50" y="143.20" font-size="6.9" text-anchor="start" font-weight="normal" font-style="normal" fill="#1a1a1a" stroke="#1a1a1a" stroke-width="0.1" >Non-frameshift deletion</text>
<rect x="408.10" y="149.30" width="3.80" height="3.80" fill="#ffff00" />
<text x="415.50" y="153.80" font-size="6.9" text-anchor="start" font-weight="normal" font-style="normal" fill="#1a1a1a" stroke="#1a1a1a" stroke-width="0.1" >Frameshift deletion</text>
<rect x="408.10" y="159.80" width="3.80" height="3.80" fill="#a020f0" />
<text x="415.50" y="164.30" font-size="6.9" text-anchor="start" font-weight="normal" font-style="normal" fill="#1a1a1a" stroke="#1a1a1a" stroke-width="0.1" >Splicing</text>
<rect x="408.10" y="172.50" width="3.80" height="3.80" fill="#00ffff" />
<text x="415.50" y="177.00" font-size="6.9" text-anchor="start" font-weight="normal" font-style="normal" fill="#1a1a1a" stroke="#1a1a1a" stroke-width="0.1" >Stop gain SNV</text>
<rect x="408.10" y="183.60" width="3.80" height="3.80" fill="#00cd00" />
<text x="415.50" y="188.10" font-size="6.9" text-anchor="start" font-weight="normal" font-style="normal" fill="#1a1a1a" stroke="#1a1a1a" stroke-width="0.1" >Frameshift insertion</text>
<rect x="408.10" y="194.50" width="3.80" height="3.80" fill="#ff0000" />
<text x="415.50" y="199.00" font-size="6.9" text-anchor="start" font-weight="normal" font-style="normal" fill="#1a1a1a" stroke="#1a1a1a" stroke-width="0.1" >Multi-hit</text>
<text x="408.50" y="220.50" font-size="7.7" text-anchor="start" font-weight="bold" font-style="normal" fill="#000" stroke="#000" stroke-width="0.22" >Race and ethnicity</text>
<rect x="408.70" y="225.40" width="4.40" height="4.40" fill="#c8142f" />
<text x="415.50" y="230.20" font-size="6.9" text-anchor="start" font-weight="normal" font-style="normal" fill="#1a1a1a" stroke="#1a1a1a" stroke-width="0.1" >Non-Hispanic Black</text>
<rect x="408.70" y="236.10" width="4.40" height="4.40" fill="#14548e" />
<text x="415.50" y="240.90" font-size="6.9" text-anchor="start" font-weight="normal" font-style="normal" fill="#1a1a1a" stroke="#1a1a1a" stroke-width="0.1" >Hispanic</text>
<rect x="408.70" y="247.40" width="4.40" height="4.40" fill="#35b34a" />
<text x="415.50" y="252.20" font-size="6.9" text-anchor="start" font-weight="normal" font-style="normal" fill="#1a1a1a" stroke="#1a1a1a" stroke-width="0.1" >Non-Hispanic White</text>
<g id="radar">
<line x1="125.70" y1="356.00" x2="125.70" y2="293.80" stroke="#8a8a8a" stroke-width="1.3" />
<line x1="129.65" y1="357.16" x2="163.27" y2="304.83" stroke="#1a1a1a" stroke-width="0.95" />
<line x1="132.34" y1="360.27" x2="188.92" y2="334.43" stroke="#1a1a1a" stroke-width="0.95" />
<line x1="132.93" y1="364.34" x2="194.49" y2="373.19" stroke="#1a1a1a" stroke-width="0.95" />
<line x1="131.22" y1="368.08" x2="178.22" y2="408.81" stroke="#1a1a1a" stroke-width="0.95" />
<line x1="127.76" y1="370.30" x2="145.28" y2="429.98" stroke="#1a1a1a" stroke-width="0.95" />
<line x1="123.64" y1="370.30" x2="106.12" y2="429.98" stroke="#1a1a1a" stroke-width="0.95" />
<line x1="120.18" y1="368.08" x2="73.18" y2="408.81" stroke="#1a1a1a" stroke-width="0.95" />
<line x1="118.47" y1="364.34" x2="56.91" y2="373.19" stroke="#1a1a1a" stroke-width="0.95" />
<line x1="119.06" y1="360.27" x2="62.48" y2="334.43" stroke="#1a1a1a" stroke-width="0.95" />
<line x1="121.75" y1="357.16" x2="88.13" y2="304.83" stroke="#1a1a1a" stroke-width="0.95" />
<circle cx="125.7" cy="363.3" r="69.5" fill="none" stroke="#000" stroke-width="1.25" stroke-dasharray="3.6 2.5"/>
<circle cx="125.7" cy="363.3" r="37.8" fill="none" stroke="#000" stroke-width="1.25" stroke-dasharray="3.6 2.5"/>
<polygon points="125.70,351.10 133.43,351.27 153.99,350.38 155.00,367.51 136.58,372.73 143.59,424.23 112.85,407.05 118.29,369.72 116.40,364.64 110.78,356.49 105.37,331.67" fill="none" stroke="#35b84a" stroke-width="1.4" stroke-linejoin="round"/>
<circle cx="125.70" cy="351.10" r="1.9" fill="#35b84a"/>
<circle cx="133.43" cy="351.27" r="1.9" fill="#35b84a"/>
<circle cx="153.99" cy="350.38" r="1.9" fill="#35b84a"/>
<circle cx="155.00" cy="367.51" r="1.9" fill="#35b84a"/>
<circle cx="136.58" cy="372.73" r="1.9" fill="#35b84a"/>
<circle cx="143.59" cy="424.23" r="1.9" fill="#35b84a"/>
<circle cx="112.85" cy="407.05" r="1.9" fill="#35b84a"/>
<circle cx="118.29" cy="369.72" r="1.9" fill="#35b84a"/>
<circle cx="116.40" cy="364.64" r="1.9" fill="#35b84a"/>
<circle cx="110.78" cy="356.49" r="1.9" fill="#35b84a"/>
<circle cx="105.37" cy="331.67" r="1.9" fill="#35b84a"/>
<polygon points="125.70,352.00 139.16,342.35 155.90,349.51 137.08,364.94 146.86,381.64 140.91,415.11 110.57,414.82 114.44,373.06 110.75,365.45 107.60,355.03 117.10,349.92" fill="none" stroke="#1558a0" stroke-width="1.4" stroke-linejoin="round"/>
<circle cx="125.70" cy="352.00" r="1.9" fill="#1558a0"/>
<circle cx="139.16" cy="342.35" r="1.9" fill="#1558a0"/>
<circle cx="155.90" cy="349.51" r="1.9" fill="#1558a0"/>
<circle cx="137.08" cy="364.94" r="1.9" fill="#1558a0"/>
<circle cx="146.86" cy="381.64" r="1.9" fill="#1558a0"/>
<circle cx="140.91" cy="415.11" r="1.9" fill="#1558a0"/>
<circle cx="110.57" cy="414.82" r="1.9" fill="#1558a0"/>
<circle cx="114.44" cy="373.06" r="1.9" fill="#1558a0"/>
<circle cx="110.75" cy="365.45" r="1.9" fill="#1558a0"/>
<circle cx="107.60" cy="355.03" r="1.9" fill="#1558a0"/>
<circle cx="117.10" cy="349.92" r="1.9" fill="#1558a0"/>
<polygon points="125.70,337.90 134.57,349.50 144.62,354.66 155.69,367.61 131.75,368.54 141.42,416.84 116.40,394.96 114.21,373.25 105.51,366.20 94.59,349.09 111.97,341.93" fill="none" stroke="#d5103a" stroke-width="1.4" stroke-linejoin="round"/>
<circle cx="125.70" cy="337.90" r="1.9" fill="#d5103a"/>
<circle cx="134.57" cy="349.50" r="1.9" fill="#d5103a"/>
<circle cx="144.62" cy="354.66" r="1.9" fill="#d5103a"/>
<circle cx="155.69" cy="367.61" r="1.9" fill="#d5103a"/>
<circle cx="131.75" cy="368.54" r="1.9" fill="#d5103a"/>
<circle cx="141.42" cy="416.84" r="1.9" fill="#d5103a"/>
<circle cx="116.40" cy="394.96" r="1.9" fill="#d5103a"/>
<circle cx="114.21" cy="373.25" r="1.9" fill="#d5103a"/>
<circle cx="105.51" cy="366.20" r="1.9" fill="#d5103a"/>
<circle cx="94.59" cy="349.09" r="1.9" fill="#d5103a"/>
<circle cx="111.97" cy="341.93" r="1.9" fill="#d5103a"/>
<circle cx="125.7" cy="363.3" r="7.3" fill="#fff" stroke="#000" stroke-width="1.3" stroke-dasharray="3.8 2.3" stroke-dashoffset="1.5"/>
<text x="125.90" y="365.80" font-size="7.3" text-anchor="middle" font-weight="normal" font-style="normal" fill="#555" stroke="#555" stroke-width="0.12" >0%</text>
<text x="127.40" y="302.60" font-size="7.7" text-anchor="start" font-weight="normal" font-style="normal" fill="#555" stroke="#555" stroke-width="0.15" >30%</text>
<text x="127.40" y="334.20" font-size="7.7" text-anchor="start" font-weight="normal" font-style="normal" fill="#555" stroke="#555" stroke-width="0.15" >15%</text>
<text x="125.90" y="286.60" font-size="8.9" text-anchor="middle" font-weight="normal" font-style="normal" fill="#1a1a1a" stroke="#1a1a1a" stroke-width="0.06" >AUTS2</text>
<text x="168.70" y="300.20" font-size="9.3" text-anchor="start" font-weight="normal" font-style="normal" fill="#1a1a1a" stroke="#1a1a1a" stroke-width="0.06" >BCL7A</text>
<text x="198.30" y="333.60" font-size="9.1" text-anchor="start" font-weight="normal" font-style="normal" fill="#1a1a1a" stroke="#1a1a1a" stroke-width="0.06" >BRAF</text>
<text x="205.20" y="377.00" font-size="9.1" text-anchor="start" font-weight="normal" font-style="normal" fill="#1a1a1a" stroke="#1a1a1a" stroke-width="0.06" >DIS3</text>
<text x="186.00" y="417.80" font-size="9.1" text-anchor="start" font-weight="normal" font-style="normal" fill="#1a1a1a" stroke="#1a1a1a" stroke-width="0.06" >IRF4</text>
<text x="150.00" y="442.60" font-size="9.1" text-anchor="start" font-weight="normal" font-style="normal" fill="#1a1a1a" stroke="#1a1a1a" stroke-width="0.06" >KRAS</text>
<text x="104.00" y="442.60" font-size="9.1" text-anchor="end" font-weight="normal" font-style="normal" fill="#1a1a1a" stroke="#1a1a1a" stroke-width="0.06" >NRAS</text>
<text x="64.50" y="417.80" font-size="8.8" text-anchor="end" font-weight="normal" font-style="normal" fill="#1a1a1a" stroke="#1a1a1a" stroke-width="0.06" >PARP4</text>
<text x="46.30" y="377.00" font-size="9.1" text-anchor="end" font-weight="normal" font-style="normal" fill="#1a1a1a" stroke="#1a1a1a" stroke-width="0.06" >SETD2</text>
<text x="53.40" y="333.60" font-size="9.1" text-anchor="end" font-weight="normal" font-style="normal" fill="#1a1a1a" stroke="#1a1a1a" stroke-width="0.06" >SP140</text>
<text x="83.30" y="300.30" font-size="9.1" text-anchor="end" font-weight="normal" font-style="normal" fill="#1a1a1a" stroke="#1a1a1a" stroke-width="0.06" >TP53</text>
</g>
<g id="box">
<line x1="270.40" y1="276.30" x2="270.40" y2="434.80" stroke="#111" stroke-width="1.1" />
<line x1="267.20" y1="311.30" x2="270.20" y2="311.30" stroke="#231f20" stroke-width="1" />
<text x="264.40" y="314.10" font-size="7.8" text-anchor="end" font-weight="normal" font-style="normal" fill="#1a1a1a" stroke="#1a1a1a" stroke-width="0.22" >8</text>
<line x1="267.20" y1="358.80" x2="270.20" y2="358.80" stroke="#231f20" stroke-width="1" />
<text x="264.40" y="361.60" font-size="7.8" text-anchor="end" font-weight="normal" font-style="normal" fill="#1a1a1a" stroke="#1a1a1a" stroke-width="0.22" >4</text>
<line x1="267.20" y1="406.30" x2="270.20" y2="406.30" stroke="#231f20" stroke-width="1" />
<text x="264.40" y="409.10" font-size="7.8" text-anchor="end" font-weight="normal" font-style="normal" fill="#1a1a1a" stroke="#1a1a1a" stroke-width="0.22" >0</text>
<text transform="translate(253.8,368.2) rotate(-90)" font-size="8.8" text-anchor="middle" fill="#1a1a1a" stroke="#1a1a1a" stroke-width="0.15">Log<tspan font-size="7.4" dy="1.7">2</tspan><tspan dy="-1.7"> expression</tspan></text>
<line x1="269.70" y1="434.45" x2="347.30" y2="434.45" stroke="#111" stroke-width="1.2" />
<line x1="353.50" y1="434.45" x2="430.00" y2="434.45" stroke="#111" stroke-width="1.2" />
<line x1="435.60" y1="434.45" x2="512.90" y2="434.45" stroke="#111" stroke-width="1.2" />
<line x1="285.30" y1="304.20" x2="285.30" y2="341.20" stroke="#3c3c3c" stroke-width="1.0" />
<line x1="285.30" y1="376.20" x2="285.30" y2="426.60" stroke="#3c3c3c" stroke-width="1.0" />
<rect x="275.60" y="341.20" width="18.70" height="35.00" fill="#98d7a2" />
<line x1="275.60" y1="357.90" x2="294.30" y2="357.90" stroke="#111" stroke-width="1.5" />
<line x1="285.30" y1="434.30" x2="285.30" y2="437.50" stroke="#111" stroke-width="1.1" />
<line x1="309.70" y1="303.60" x2="309.70" y2="349.60" stroke="#3c3c3c" stroke-width="1.0" />
<line x1="309.70" y1="385.80" x2="309.70" y2="418.30" stroke="#3c3c3c" stroke-width="1.0" />
<rect x="300.60" y="349.60" width="18.30" height="36.20" fill="#7e9fc2" />
<line x1="300.60" y1="367.50" x2="318.90" y2="367.50" stroke="#111" stroke-width="1.5" />
<line x1="309.70" y1="434.30" x2="309.70" y2="437.50" stroke="#111" stroke-width="1.1" />
<line x1="334.50" y1="294.00" x2="334.50" y2="332.00" stroke="#3c3c3c" stroke-width="1.0" />
<line x1="334.50" y1="369.80" x2="334.50" y2="394.60" stroke="#3c3c3c" stroke-width="1.0" />
<rect x="325.20" y="332.00" width="18.50" height="37.80" fill="#e17f93" />
<line x1="325.20" y1="349.60" x2="343.70" y2="349.60" stroke="#111" stroke-width="1.5" />
<line x1="334.50" y1="434.30" x2="334.50" y2="437.50" stroke="#111" stroke-width="1.1" />
<path transform="translate(0,0)" d="M284.7 273.2V269.1H334.7V273.2 M284.7 281.5V277.2H308.3V281.5 M312.1 281.5V277.2H334.7V281.5" fill="none" stroke="#111" stroke-width="1.15"/>
<text x="310.30" y="276.30" font-size="7.4" text-anchor="middle" font-weight="normal" font-style="normal" fill="#1a1a1a" stroke="#1a1a1a" stroke-width="0.3" >*</text>
<text x="297.10" y="283.40" font-size="7.2" text-anchor="middle" font-weight="normal" font-style="normal" fill="#1a1a1a" stroke="#1a1a1a" stroke-width="0.1" >ns</text>
<text x="324.00" y="285.70" font-size="7.4" text-anchor="middle" font-weight="normal" font-style="normal" fill="#1a1a1a" stroke="#1a1a1a" stroke-width="0.3" >**</text>
<text x="309.7" y="429.8" font-size="7.6" text-anchor="middle" fill="#1a1a1a" stroke="#1a1a1a" stroke-width="0.2"><tspan font-style="italic">P</tspan>=.01</text>
<text x="309.80" y="445.90" font-size="7.9" text-anchor="middle" font-weight="normal" font-style="italic" fill="#1a1a1a" stroke="#1a1a1a" stroke-width="0.15" >BCL7A</text>
<line x1="367.10" y1="280.90" x2="367.10" y2="316.10" stroke="#3c3c3c" stroke-width="1.0" />
<line x1="367.10" y1="339.70" x2="367.10" y2="375.20" stroke="#3c3c3c" stroke-width="1.0" />
<rect x="357.90" y="316.10" width="18.60" height="23.60" fill="#98d7a2" />
<line x1="357.90" y1="328.20" x2="376.50" y2="328.20" stroke="#111" stroke-width="1.5" />
<circle cx="367.10" cy="376.40" r="1.25" fill="#2eb34a"/>
<circle cx="367.10" cy="378.10" r="1.25" fill="#2eb34a"/>
<circle cx="367.10" cy="389.00" r="1.25" fill="#2eb34a"/>
<circle cx="367.10" cy="391.50" r="1.25" fill="#2eb34a"/>
<circle cx="367.10" cy="394.40" r="1.25" fill="#2eb34a"/>
<circle cx="367.10" cy="402.30" r="1.25" fill="#2eb34a"/>
<line x1="367.10" y1="434.30" x2="367.10" y2="437.50" stroke="#111" stroke-width="1.1" />
<line x1="391.60" y1="307.00" x2="391.60" y2="317.60" stroke="#3c3c3c" stroke-width="1.0" />
<line x1="391.60" y1="338.40" x2="391.60" y2="370.80" stroke="#3c3c3c" stroke-width="1.0" />
<rect x="382.30" y="317.60" width="18.50" height="20.80" fill="#7e9fc2" />
<line x1="382.30" y1="327.20" x2="400.80" y2="327.20" stroke="#111" stroke-width="1.5" />
<circle cx="391.60" cy="384.60" r="1.25" fill="#17508f"/>
<circle cx="391.60" cy="388.70" r="1.25" fill="#17508f"/>
<circle cx="391.60" cy="391.90" r="1.25" fill="#17508f"/>
<circle cx="391.60" cy="396.50" r="1.25" fill="#17508f"/>
<line x1="391.60" y1="434.30" x2="391.60" y2="437.50" stroke="#111" stroke-width="1.1" />
<line x1="416.20" y1="305.10" x2="416.20" y2="323.40" stroke="#3c3c3c" stroke-width="1.0" />
<line x1="416.20" y1="343.00" x2="416.20" y2="370.80" stroke="#3c3c3c" stroke-width="1.0" />
<rect x="406.90" y="323.40" width="18.70" height="19.60" fill="#e17f93" />
<line x1="406.90" y1="332.40" x2="425.60" y2="332.40" stroke="#111" stroke-width="1.5" />
<circle cx="416.20" cy="391.50" r="1.25" fill="#c8102e"/>
<line x1="416.20" y1="434.30" x2="416.20" y2="437.50" stroke="#111" stroke-width="1.1" />
<path transform="translate(0,-0.7)" d="M366.6 273.2V269.1H417.5V273.2 M366.6 281.5V277.2H390.6V281.5 M394.4 281.5V277.2H417.5V281.5" fill="none" stroke="#111" stroke-width="1.15"/>
<text x="392.65" y="275.60" font-size="7.4" text-anchor="middle" font-weight="normal" font-style="normal" fill="#1a1a1a" stroke="#1a1a1a" stroke-width="0.3" >*</text>
<text x="379.20" y="282.70" font-size="7.2" text-anchor="middle" font-weight="normal" font-style="normal" fill="#1a1a1a" stroke="#1a1a1a" stroke-width="0.1" >ns</text>
<text x="406.55" y="282.70" font-size="7.2" text-anchor="middle" font-weight="normal" font-style="normal" fill="#1a1a1a" stroke="#1a1a1a" stroke-width="0.1" >ns</text>
<text x="391.8" y="429.8" font-size="7.6" text-anchor="middle" fill="#1a1a1a" stroke="#1a1a1a" stroke-width="0.2"><tspan font-style="italic">P</tspan>=.04</text>
<text x="392.20" y="445.90" font-size="7.9" text-anchor="middle" font-weight="normal" font-style="italic" fill="#1a1a1a" stroke="#1a1a1a" stroke-width="0.15" >SPEF2</text>
<line x1="448.90" y1="298.00" x2="448.90" y2="316.10" stroke="#3c3c3c" stroke-width="1.0" />
<line x1="448.90" y1="327.60" x2="448.90" y2="346.30" stroke="#3c3c3c" stroke-width="1.0" />
<rect x="439.80" y="316.10" width="18.70" height="11.50" fill="#98d7a2" />
<line x1="439.80" y1="321.50" x2="458.50" y2="321.50" stroke="#111" stroke-width="1.5" />
<circle cx="448.90" cy="292.20" r="1.25" fill="#2eb34a"/>
<circle cx="448.90" cy="347.40" r="1.25" fill="#2eb34a"/>
<circle cx="448.90" cy="350.80" r="1.25" fill="#2eb34a"/>
<circle cx="448.90" cy="351.80" r="1.25" fill="#2eb34a"/>
<circle cx="448.90" cy="359.20" r="1.25" fill="#2eb34a"/>
<line x1="448.90" y1="434.30" x2="448.90" y2="437.50" stroke="#111" stroke-width="1.1" />
<line x1="473.70" y1="310.00" x2="473.70" y2="319.20" stroke="#3c3c3c" stroke-width="1.0" />
<line x1="473.70" y1="325.30" x2="473.70" y2="334.00" stroke="#3c3c3c" stroke-width="1.0" />
<rect x="464.20" y="319.20" width="18.90" height="6.10" fill="#7e9fc2" />
<line x1="464.20" y1="322.00" x2="483.10" y2="322.00" stroke="#111" stroke-width="1.5" />
<circle cx="473.70" cy="305.50" r="1.25" fill="#17508f"/>
<circle cx="473.70" cy="335.40" r="1.25" fill="#17508f"/>
<circle cx="473.70" cy="337.30" r="1.25" fill="#17508f"/>
<circle cx="473.70" cy="364.80" r="1.25" fill="#17508f"/>
<line x1="473.70" y1="434.30" x2="473.70" y2="437.50" stroke="#111" stroke-width="1.1" />
<line x1="498.70" y1="310.00" x2="498.70" y2="320.00" stroke="#3c3c3c" stroke-width="1.0" />
<line x1="498.70" y1="331.50" x2="498.70" y2="343.10" stroke="#3c3c3c" stroke-width="1.0" />
<rect x="489.60" y="320.00" width="18.50" height="11.50" fill="#e17f93" />
<line x1="489.60" y1="328.20" x2="508.10" y2="328.20" stroke="#111" stroke-width="1.5" />
<line x1="498.70" y1="434.30" x2="498.70" y2="437.50" stroke="#111" stroke-width="1.1" />
<path transform="translate(0,-0.7)" d="M448.9 273.2V269.1H499.2V273.2 M448.9 281.5V277.2H472.3V281.5 M476.3 281.5V277.2H499.2V281.5" fill="none" stroke="#111" stroke-width="1.15"/>
<text x="474.65" y="275.60" font-size="7.4" text-anchor="middle" font-weight="normal" font-style="normal" fill="#1a1a1a" stroke="#1a1a1a" stroke-width="0.3" >**</text>
<text x="461.20" y="282.70" font-size="7.2" text-anchor="middle" font-weight="normal" font-style="normal" fill="#1a1a1a" stroke="#1a1a1a" stroke-width="0.1" >ns</text>
<text x="488.35" y="282.70" font-size="7.2" text-anchor="middle" font-weight="normal" font-style="normal" fill="#1a1a1a" stroke="#1a1a1a" stroke-width="0.1" >ns</text>
<text x="474.1" y="429.8" font-size="7.6" text-anchor="middle" fill="#1a1a1a" stroke="#1a1a1a" stroke-width="0.2"><tspan font-style="italic">P</tspan>=.03</text>
<text x="473.80" y="445.90" font-size="7.9" text-anchor="middle" font-weight="normal" font-style="italic" fill="#1a1a1a" stroke="#1a1a1a" stroke-width="0.15" >ANKRD26</text>
</g>
<path d="M0 0H520V453H0Z M1.25 1V451.85H519V1Z" fill="#000" fill-rule="evenodd"/>
</svg>
</body></html>
